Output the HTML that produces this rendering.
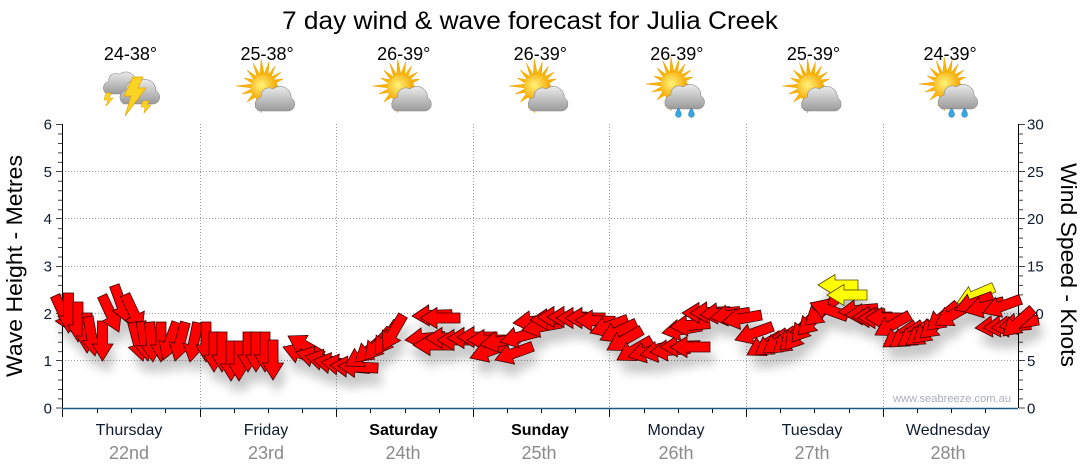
<!DOCTYPE html>
<html><head><meta charset="utf-8"><style>
html,body{margin:0;padding:0;background:#fff;}
svg{display:block;font-family:"Liberation Sans",sans-serif;}
</style></head><body>
<svg width="1080" height="475" viewBox="0 0 1080 475" xmlns="http://www.w3.org/2000/svg">
<defs>
<path id="a" d="M0,0 L-17,-10.5 L-17,-5 L-40,-5 L-40,5 L-17,5 L-17,10.5 Z"/>
<filter id="sh" x="-5%" y="-30%" width="110%" height="180%">
<feGaussianBlur in="SourceAlpha" stdDeviation="5"/>
<feOffset dx="4" dy="12"/>
<feComponentTransfer><feFuncA type="linear" slope="0.22"/></feComponentTransfer>
<feMerge><feMergeNode/><feMergeNode in="SourceGraphic"/></feMerge>
</filter>
<radialGradient id="sun" cx="0.4" cy="0.4" r="0.6"><stop offset="0" stop-color="#fff47a"/><stop offset="1" stop-color="#f5a300"/></radialGradient>
<linearGradient id="cl" x1="0" y1="-8" x2="0" y2="20" gradientUnits="userSpaceOnUse"><stop offset="0" stop-color="#f6f6f6"/><stop offset="1" stop-color="#9a9a9a"/></linearGradient>
<path id="cloud" d="M-10,20 H20 A7,7 0 0 0 22,7 A11,11 0 0 0 4,-2 A8,8 0 0 0 -8,6 A7.5,7.5 0 0 0 -10,20 Z" fill="url(#cl)" stroke="#8a8a8a" stroke-width="0.6"/>
<g id="sunc">
<polygon points="-3,-29 0,-14 5,-26 4,-13 11,-22 7,-11 17,-16 9,-8 19,-9 10,-4 14,-2 9,1 19,6 8,4 11,12 5,8 8,20 2,9 -3,25 -3,10 -9,20 -7,8 -17,14 -10,4 -22,6 -11,0 -28,-2 -11,-4 -20,-10 -10,-8 -17,-18 -7,-11 -11,-25 -4,-13" fill="#f7b500" stroke="#f39c00" stroke-width="0.5" transform="translate(-3,-2)"/>
<circle cx="-3" cy="-2" r="13.5" fill="url(#sun)"/>
<use href="#cloud" transform="translate(2,1)"/>
</g>
<g id="drops">
<path d="M0,-5 Q4,1 2.5,3 A3,3 0 0 1 -2.5,3 Q-4,1 0,-5Z" fill="#3aa6e0" stroke="#1c78b0" stroke-width="0.5" transform="translate(1.5,25)"/>
<path d="M0,-5 Q4,1 2.5,3 A3,3 0 0 1 -2.5,3 Q-4,1 0,-5Z" fill="#3aa6e0" stroke="#1c78b0" stroke-width="0.5" transform="translate(14.5,25)"/>
</g>
</defs>
<rect width="1080" height="475" fill="#fff"/>

<text x="282" y="29" font-size="25" fill="#000" textLength="496" lengthAdjust="spacingAndGlyphs">7 day wind &amp; wave forecast for Julia Creek</text>

<g font-size="18" fill="#000" text-anchor="middle">
<text x="130.5" y="60">24-38°</text>
<text x="267.1" y="60">25-38°</text>
<text x="403.7" y="60">26-39°</text>
<text x="540.3" y="60">26-39°</text>
<text x="676.9" y="60">26-39°</text>
<text x="813.5" y="60">25-39°</text>
<text x="950.1" y="60">24-39°</text>
</g>

<g>
<use href="#cloud" transform="translate(116,76) scale(0.9)"/>
<use href="#cloud" transform="translate(134,84) scale(1.0)"/>
<path d="M106,93 L111,93 L109,98 L113,98 L106,106 L108,100 L104,100Z" fill="#f9d423" stroke="#e8a000" stroke-width="0.6"/>
<path d="M143,101 L149,101 L147,105 L151,105 L144,113 L145,107 L141,107 Z" fill="#f9d423" stroke="#e8a000" stroke-width="0.6"/>
<path d="M133,77 L143,77 L138,88 L146,88 L125,116 L131,96 L124,96 Z" fill="#f9d423" stroke="#e8a000" stroke-width="0.7"/>
</g>
<use href="#sunc" transform="translate(267.1,90)"/>
<use href="#sunc" transform="translate(403.7,90)"/>
<use href="#sunc" transform="translate(540.3,90)"/>
<use href="#sunc" transform="translate(676.9,88)"/>
<use href="#drops" transform="translate(676.9,88)"/>
<use href="#sunc" transform="translate(813.5,90)"/>
<use href="#sunc" transform="translate(950.1,88)"/>
<use href="#drops" transform="translate(950.1,88)"/>

<g stroke="#9a9a9a" stroke-width="1" stroke-dasharray="1,2" fill="none">
<line x1="62" y1="171.5" x2="1018" y2="171.5"/>
<line x1="62" y1="218.5" x2="1018" y2="218.5"/>
<line x1="62" y1="266.5" x2="1018" y2="266.5"/>
<line x1="62" y1="313.5" x2="1018" y2="313.5"/>
<line x1="62" y1="360.5" x2="1018" y2="360.5"/>
<line x1="200.5" y1="124" x2="200.5" y2="408"/>
<line x1="336.5" y1="124" x2="336.5" y2="408"/>
<line x1="473.5" y1="124" x2="473.5" y2="408"/>
<line x1="609.5" y1="124" x2="609.5" y2="408"/>
<line x1="746.5" y1="124" x2="746.5" y2="408"/>
<line x1="883.5" y1="124" x2="883.5" y2="408"/>
</g>

<g stroke="#000" stroke-width="1">
<line x1="62.5" y1="124" x2="62.5" y2="408"/>
<line x1="1018.5" y1="124" x2="1018.5" y2="408"/>
</g>
<g stroke="#444" stroke-width="1">
<path d="M56,124.5H62 M58,134H62 M58,143.5H62 M58,152.9H62 M58,162.4H62 M56,171.5H62 M58,181.3H62 M58,190.8H62 M58,200.2H62 M58,209.7H62 M56,218.5H62 M58,228.6H62 M58,238.1H62 M58,247.5H62 M58,257H62 M56,266.5H62 M58,275.9H62 M58,285.4H62 M58,294.9H62 M58,304.3H62 M56,313.5H62 M58,323.2H62 M58,332.7H62 M58,342.2H62 M58,351.6H62 M56,360.5H62 M58,370.5H62 M58,380H62 M58,389.5H62 M58,398.9H62 M56,408H62"/>
<path d="M1019,124.5H1025 M1019,134H1023 M1019,143.5H1023 M1019,152.9H1023 M1019,162.4H1023 M1019,171.5H1025 M1019,181.3H1023 M1019,190.8H1023 M1019,200.2H1023 M1019,209.7H1023 M1019,218.5H1025 M1019,228.6H1023 M1019,238.1H1023 M1019,247.5H1023 M1019,257H1023 M1019,266.5H1025 M1019,275.9H1023 M1019,285.4H1023 M1019,294.9H1023 M1019,304.3H1023 M1019,313.5H1025 M1019,323.2H1023 M1019,332.7H1023 M1019,342.2H1023 M1019,351.6H1023 M1019,360.5H1025 M1019,370.5H1023 M1019,380H1023 M1019,389.5H1023 M1019,398.9H1023 M1019,408H1025"/>
</g>
<g stroke="#111" stroke-width="1">
<path d="M62.5,408V417 M97.5,408V413 M131.5,408V413 M165.5,408V413 M200.5,408V417 M234.5,408V413 M268.5,408V413 M302.5,408V413 M336.5,408V417 M370.5,408V413 M405.5,408V413 M439.5,408V413 M473.5,408V417 M507.5,408V413 M541.5,408V413 M575.5,408V413 M609.5,408V417 M644.5,408V413 M678.5,408V413 M712.5,408V413 M746.5,408V417 M780.5,408V413 M814.5,408V413 M849.5,408V413 M883.5,408V417 M917.5,408V413 M951.5,408V413 M985.5,408V413"/>
</g>
<line x1="62" y1="408.5" x2="1018" y2="408.5" stroke="#1c5a85" stroke-width="1.5"/>

<g font-size="15" fill="#0e1a30" text-anchor="end">
<text x="52" y="129.5">6</text>
<text x="52" y="176.8">5</text>
<text x="52" y="224.2">4</text>
<text x="52" y="271.5">3</text>
<text x="52" y="318.8">2</text>
<text x="52" y="366.2">1</text>
<text x="52" y="413.5">0</text>
</g>
<g font-size="15" fill="#0e1a30">
<text x="1027" y="129.5">30</text>
<text x="1027" y="176.8">25</text>
<text x="1027" y="224.2">20</text>
<text x="1027" y="271.5">15</text>
<text x="1027" y="318.8">10</text>
<text x="1027" y="366.2">5</text>
<text x="1027" y="413.5">0</text>
</g>

<text transform="translate(22,266) rotate(-90)" text-anchor="middle" font-size="22" fill="#000" textLength="222" lengthAdjust="spacingAndGlyphs">Wave Height - Metres</text>
<text transform="translate(1061,265) rotate(90)" text-anchor="middle" font-size="22" fill="#000" textLength="204" lengthAdjust="spacingAndGlyphs">Wind Speed - Knots</text>

<g font-size="16" fill="#0e1a2e" text-anchor="middle">
<text x="129" y="435">Thursday</text>
<text x="266" y="435">Friday</text>
<text x="403.5" y="435" font-weight="bold" fill="#000">Saturday</text>
<text x="540" y="435" font-weight="bold" fill="#000">Sunday</text>
<text x="676" y="435">Monday</text>
<text x="812" y="435">Tuesday</text>
<text x="948" y="435">Wednesday</text>
</g>
<g font-size="18" fill="#8a8a8a" text-anchor="middle">
<text x="129" y="459">22nd</text>
<text x="266" y="459">23rd</text>
<text x="403" y="459">24th</text>
<text x="539" y="459">25th</text>
<text x="676" y="459">26th</text>
<text x="812" y="459">27th</text>
<text x="948" y="459">28th</text>
</g>

<text x="893" y="402" font-size="11" fill="#a9aebc" textLength="118" lengthAdjust="spacingAndGlyphs">www.seabreeze.com.au</text>

<g filter="url(#sh)">
<g fill="#ff0000" stroke="#3a0000" stroke-width="0.8">
<use href="#a" transform="translate(72,332) rotate(65)"/>
<use href="#a" transform="translate(68.5,333) rotate(90)"/>
<use href="#a" transform="translate(78,342) rotate(90)"/>
<use href="#a" transform="translate(87,353) rotate(90)"/>
<use href="#a" transform="translate(95,356) rotate(80)"/>
<use href="#a" transform="translate(102.5,361) rotate(90)"/>
<use href="#a" transform="translate(119,332) rotate(65)"/>
<use href="#a" transform="translate(128,323) rotate(70)"/>
<use href="#a" transform="translate(142,331) rotate(65)"/>
<use href="#a" transform="translate(143,361) rotate(75)"/>
<use href="#a" transform="translate(148,361) rotate(80)"/>
<use href="#a" transform="translate(153,362) rotate(85)"/>
<use href="#a" transform="translate(161,362) rotate(90)"/>
<use href="#a" transform="translate(163,360) rotate(110)"/>
<use href="#a" transform="translate(175,361) rotate(105)"/>
<use href="#a" transform="translate(190,362) rotate(101)"/>
<use href="#a" transform="translate(206,362) rotate(90)"/>
<use href="#a" transform="translate(214,372) rotate(90)"/>
<use href="#a" transform="translate(222,372) rotate(90)"/>
<use href="#a" transform="translate(231,381) rotate(90)"/>
<use href="#a" transform="translate(239,381) rotate(90)"/>
<use href="#a" transform="translate(248,372) rotate(90)"/>
<use href="#a" transform="translate(256,372) rotate(90)"/>
<use href="#a" transform="translate(265,372) rotate(90)"/>
<use href="#a" transform="translate(273,380) rotate(90)"/>
<use href="#a" transform="translate(283,347) rotate(200)"/>
<use href="#a" transform="translate(288,336) rotate(210)"/>
<use href="#a" transform="translate(296,352) rotate(195)"/>
<use href="#a" transform="translate(305,356) rotate(192)"/>
<use href="#a" transform="translate(313,360) rotate(190)"/>
<use href="#a" transform="translate(321,362) rotate(188)"/>
<use href="#a" transform="translate(330,365) rotate(185)"/>
<use href="#a" transform="translate(338,366) rotate(183)"/>
<use href="#a" transform="translate(345,366) rotate(150)"/>
<use href="#a" transform="translate(355,362) rotate(140)"/>
<use href="#a" transform="translate(365,360) rotate(130)"/>
<use href="#a" transform="translate(375,355) rotate(125)"/>
<use href="#a" transform="translate(383,350) rotate(120)"/>
<use href="#a" transform="translate(405,340) rotate(175)"/>
<use href="#a" transform="translate(412,316) rotate(178)"/>
<use href="#a" transform="translate(420,318) rotate(180)"/>
<use href="#a" transform="translate(413,345) rotate(180)"/>
<use href="#a" transform="translate(425,338) rotate(180)"/>
<use href="#a" transform="translate(437,340) rotate(180)"/>
<use href="#a" transform="translate(447,338) rotate(180)"/>
<use href="#a" transform="translate(457,337) rotate(180)"/>
<use href="#a" transform="translate(467,340) rotate(180)"/>
<use href="#a" transform="translate(470,358) rotate(160)"/>
<use href="#a" transform="translate(480,345) rotate(170)"/>
<use href="#a" transform="translate(495,360) rotate(160)"/>
<use href="#a" transform="translate(500,342) rotate(165)"/>
<use href="#a" transform="translate(513,323) rotate(175)"/>
<use href="#a" transform="translate(522,330) rotate(170)"/>
<use href="#a" transform="translate(530,320) rotate(178)"/>
<use href="#a" transform="translate(537,317) rotate(180)"/>
<use href="#a" transform="translate(547,317) rotate(180)"/>
<use href="#a" transform="translate(556,318) rotate(180)"/>
<use href="#a" transform="translate(565,318) rotate(180)"/>
<use href="#a" transform="translate(575,320) rotate(182)"/>
<use href="#a" transform="translate(590,333) rotate(160)"/>
<use href="#a" transform="translate(600,340) rotate(155)"/>
<use href="#a" transform="translate(607,350) rotate(150)"/>
<use href="#a" transform="translate(617,360) rotate(150)"/>
<use href="#a" transform="translate(628,357) rotate(165)"/>
<use href="#a" transform="translate(640,355) rotate(170)"/>
<use href="#a" transform="translate(650,352) rotate(175)"/>
<use href="#a" transform="translate(660,347) rotate(178)"/>
<use href="#a" transform="translate(670,347) rotate(180)"/>
<use href="#a" transform="translate(662,333) rotate(170)"/>
<use href="#a" transform="translate(670,327) rotate(175)"/>
<use href="#a" transform="translate(682,313) rotate(180)"/>
<use href="#a" transform="translate(690,313) rotate(178)"/>
<use href="#a" transform="translate(700,315) rotate(175)"/>
<use href="#a" transform="translate(710,318) rotate(172)"/>
<use href="#a" transform="translate(722,322) rotate(170)"/>
<use href="#a" transform="translate(735,340) rotate(160)"/>
<use href="#a" transform="translate(747,355) rotate(150)"/>
<use href="#a" transform="translate(755,355) rotate(145)"/>
<use href="#a" transform="translate(763,353) rotate(145)"/>
<use href="#a" transform="translate(773,353) rotate(140)"/>
<use href="#a" transform="translate(780,350) rotate(135)"/>
<use href="#a" transform="translate(785,350) rotate(130)"/>
<use href="#a" transform="translate(792,342) rotate(130)"/>
<use href="#a" transform="translate(798,335) rotate(135)"/>
<use href="#a" transform="translate(805,325) rotate(140)"/>
<use href="#a" transform="translate(810,303) rotate(200)"/>
</g>
<g fill="#ffff00" stroke="#5a4a00" stroke-width="0.8">
<use href="#a" transform="translate(818,285) rotate(180)"/>
<use href="#a" transform="translate(827,295) rotate(180)"/>
</g>
<g fill="#ff0000" stroke="#3a0000" stroke-width="0.8">
<use href="#a" transform="translate(838,312) rotate(175)"/>
<use href="#a" transform="translate(845,315) rotate(178)"/>
<use href="#a" transform="translate(852,317) rotate(180)"/>
<use href="#a" transform="translate(858,318) rotate(180)"/>
<use href="#a" transform="translate(865,318) rotate(180)"/>
<use href="#a" transform="translate(875,335) rotate(150)"/>
<use href="#a" transform="translate(883,347) rotate(145)"/>
<use href="#a" transform="translate(890,347) rotate(145)"/>
<use href="#a" transform="translate(898,346) rotate(145)"/>
<use href="#a" transform="translate(906,345) rotate(145)"/>
<use href="#a" transform="translate(913,343) rotate(140)"/>
<use href="#a" transform="translate(920,338) rotate(140)"/>
<use href="#a" transform="translate(927,330) rotate(140)"/>
<use href="#a" transform="translate(935,325) rotate(150)"/>
</g>
<g fill="#ffff00" stroke="#5a4a00" stroke-width="0.8">
<use href="#a" transform="translate(957,303) rotate(157)"/>
</g>
<g fill="#ff0000" stroke="#3a0000" stroke-width="0.8">
<use href="#a" transform="translate(955,310) rotate(160)"/>
<use href="#a" transform="translate(965,312) rotate(165)"/>
<use href="#a" transform="translate(983,313) rotate(160)"/>
<use href="#a" transform="translate(975,328) rotate(175)"/>
<use href="#a" transform="translate(983,328) rotate(175)"/>
<use href="#a" transform="translate(991,328) rotate(175)"/>
<use href="#a" transform="translate(999,327) rotate(170)"/>
<use href="#a" transform="translate(1003,336) rotate(138)"/>
</g>
</g>
</svg>
</body></html>
